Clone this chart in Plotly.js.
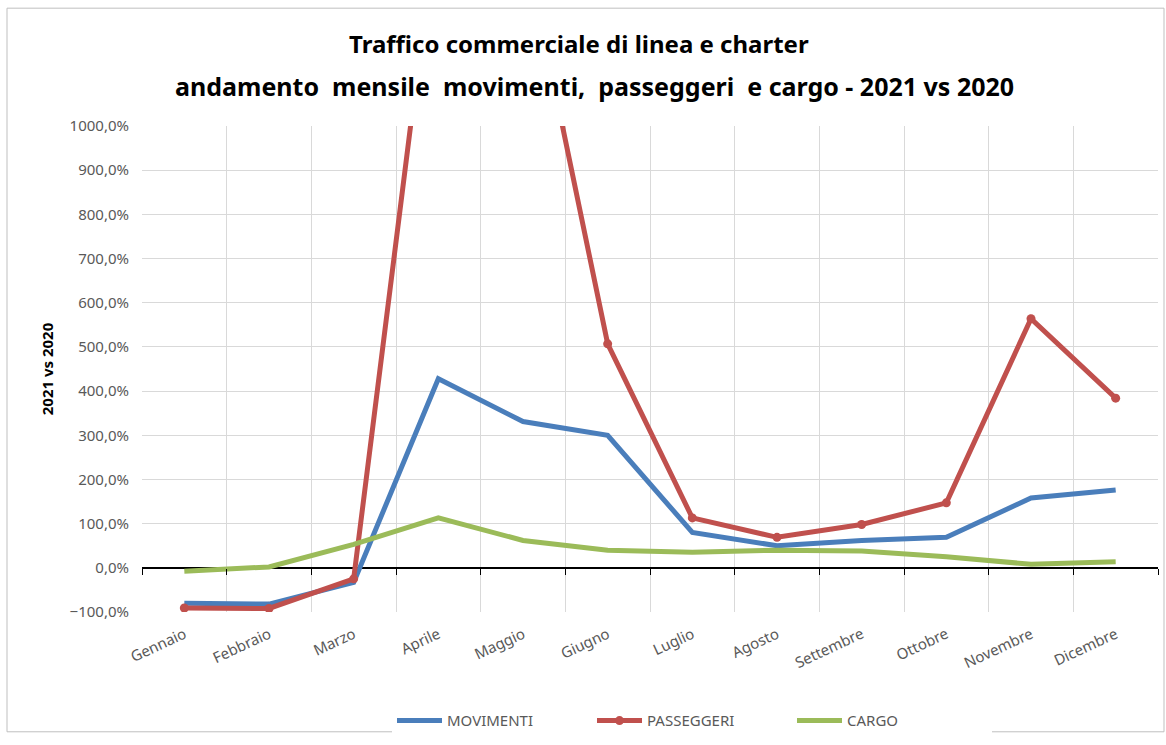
<!DOCTYPE html>
<html>
<head>
<meta charset="utf-8">
<script src="https://cdn.plot.ly/plotly-3.0.1.min.js"></script>
<style>html,body{margin:0;padding:0;background:#fff;}#chart{width:1166px;height:745px;}</style>
</head>
<body>
<div id="chart"></div>
<script>
const months = ["Gennaio","Febbraio","Marzo","Aprile","Maggio","Giugno","Luglio","Agosto","Settembre","Ottobre","Novembre","Dicembre"];
const movimenti = [-80, -82, -33, 428, 331, 300, 80, 50, 62, 69, 158, 176];
const passeggeri = [-91, -92, -25, 1500, 1430, 507, 113, 69, 98, 147, 564, 384];
const cargo = [-8, 2, 53, 113, 62, 40, 35, 40, 38, 25, 8, 14];
const titleLine1 = "Traffico commerciale di linea e charter";
const titleLine2 = "andamento  mensile  movimenti,  passeggeri  e cargo - 2021 vs 2020";

const font = "Noto Sans, Open Sans, sans-serif";

const traces = [
  {x: months, y: movimenti, name: "MOVIMENTI", type: "scatter", mode: "lines",
   line: {color: "#4a7ebb", width: 5}},
  {x: months, y: passeggeri, name: "PASSEGGERI", type: "scatter", mode: "lines+markers",
   line: {color: "#c0504d", width: 5}, marker: {color: "#c0504d", size: 9, symbol: "circle"}},
  {x: months, y: cargo, name: "CARGO", type: "scatter", mode: "lines",
   line: {color: "#9bbb59", width: 5}},
  {x: months, y: cargo, xaxis: "x2", yaxis: "y", type: "scatter", mode: "lines",
   opacity: 0, showlegend: false, hoverinfo: "skip", line: {width: 0}}
];

const layout = {
  width: 1166, height: 745,
  margin: {l: 142, r: 8, t: 126, b: 124},
  paper_bgcolor: "#ffffff", plot_bgcolor: "#ffffff",
  separators: ",.",
  font: {family: font, color: "#595959", size: 15},
  title: {
    text: "<b>" + titleLine1 + "</b>",
    font: {family: font, size: 24, color: "#000000"},
    xref: "paper", x: 0.43, xanchor: "center", yref: "container", y: 1 - 45/745, yanchor: "middle"
  },
  annotations: [
    {text: "<b>" + titleLine2 + "</b>", xref: "paper", yref: "paper",
     x: 0.445, y: (621 - 85) / 495, xanchor: "center", yanchor: "middle", showarrow: false,
     font: {family: font, size: 25, color: "#000000"}}
  ],
  xaxis: {
    type: "category", range: [-0.5, 11.5], tickson: "boundaries",
    showgrid: true, gridcolor: "#d9d9d9", gridwidth: 1,
    ticks: "", tickangle: -25, ticklabelstandoff: 10,
    tickfont: {family: font, size: 15, color: "#595959"},
    showline: false, zeroline: false, automargin: false
  },
  xaxis2: {
    type: "category", range: [-0.5, 11.5], tickson: "boundaries",
    overlaying: "x", anchor: "free", position: 100 / 1100,
    showgrid: false, showticklabels: false, ticks: "outside", ticklen: 6, tickcolor: "#000",
    showline: false, zeroline: false
  },
  yaxis: {
    range: [-100, 1000], dtick: 100, tick0: 0, tickformat: ".1f", ticksuffix: "%",
    showgrid: true, gridcolor: "#d9d9d9", gridwidth: 1,
    zeroline: true, zerolinecolor: "#000000", zerolinewidth: 1.5,
    ticks: "", showline: false, automargin: false, ticklabelstandoff: 12,
    tickfont: {family: font, size: 15, color: "#595959"},
    title: {text: "<b>2021 vs 2020</b>", font: {family: font, size: 15, color: "#000000"}, standoff: 12}
  },
  legend: {
    orientation: "h", x: (392 - 142) / 1016, xanchor: "left", y: -0.19, yanchor: "top",
    itemwidth: 45, entrywidth: 140, entrywidthmode: "pixels",
    font: {family: font, size: 15, color: "#595959"}
  },
  shapes: [
    {type: "rect", xref: "paper", yref: "paper",
     x0: -135/1016, x1: 1 + 6/1016, y0: -122/495, y1: 1 + 120/495,
     line: {color: "#bfbfbf", width: 1}, fillcolor: "rgba(0,0,0,0)", layer: "below"}
  ],
  showlegend: true
};

Plotly.newPlot("chart", traces, layout, {displayModeBar: false, staticPlot: true});
</script>
</body>
</html>
